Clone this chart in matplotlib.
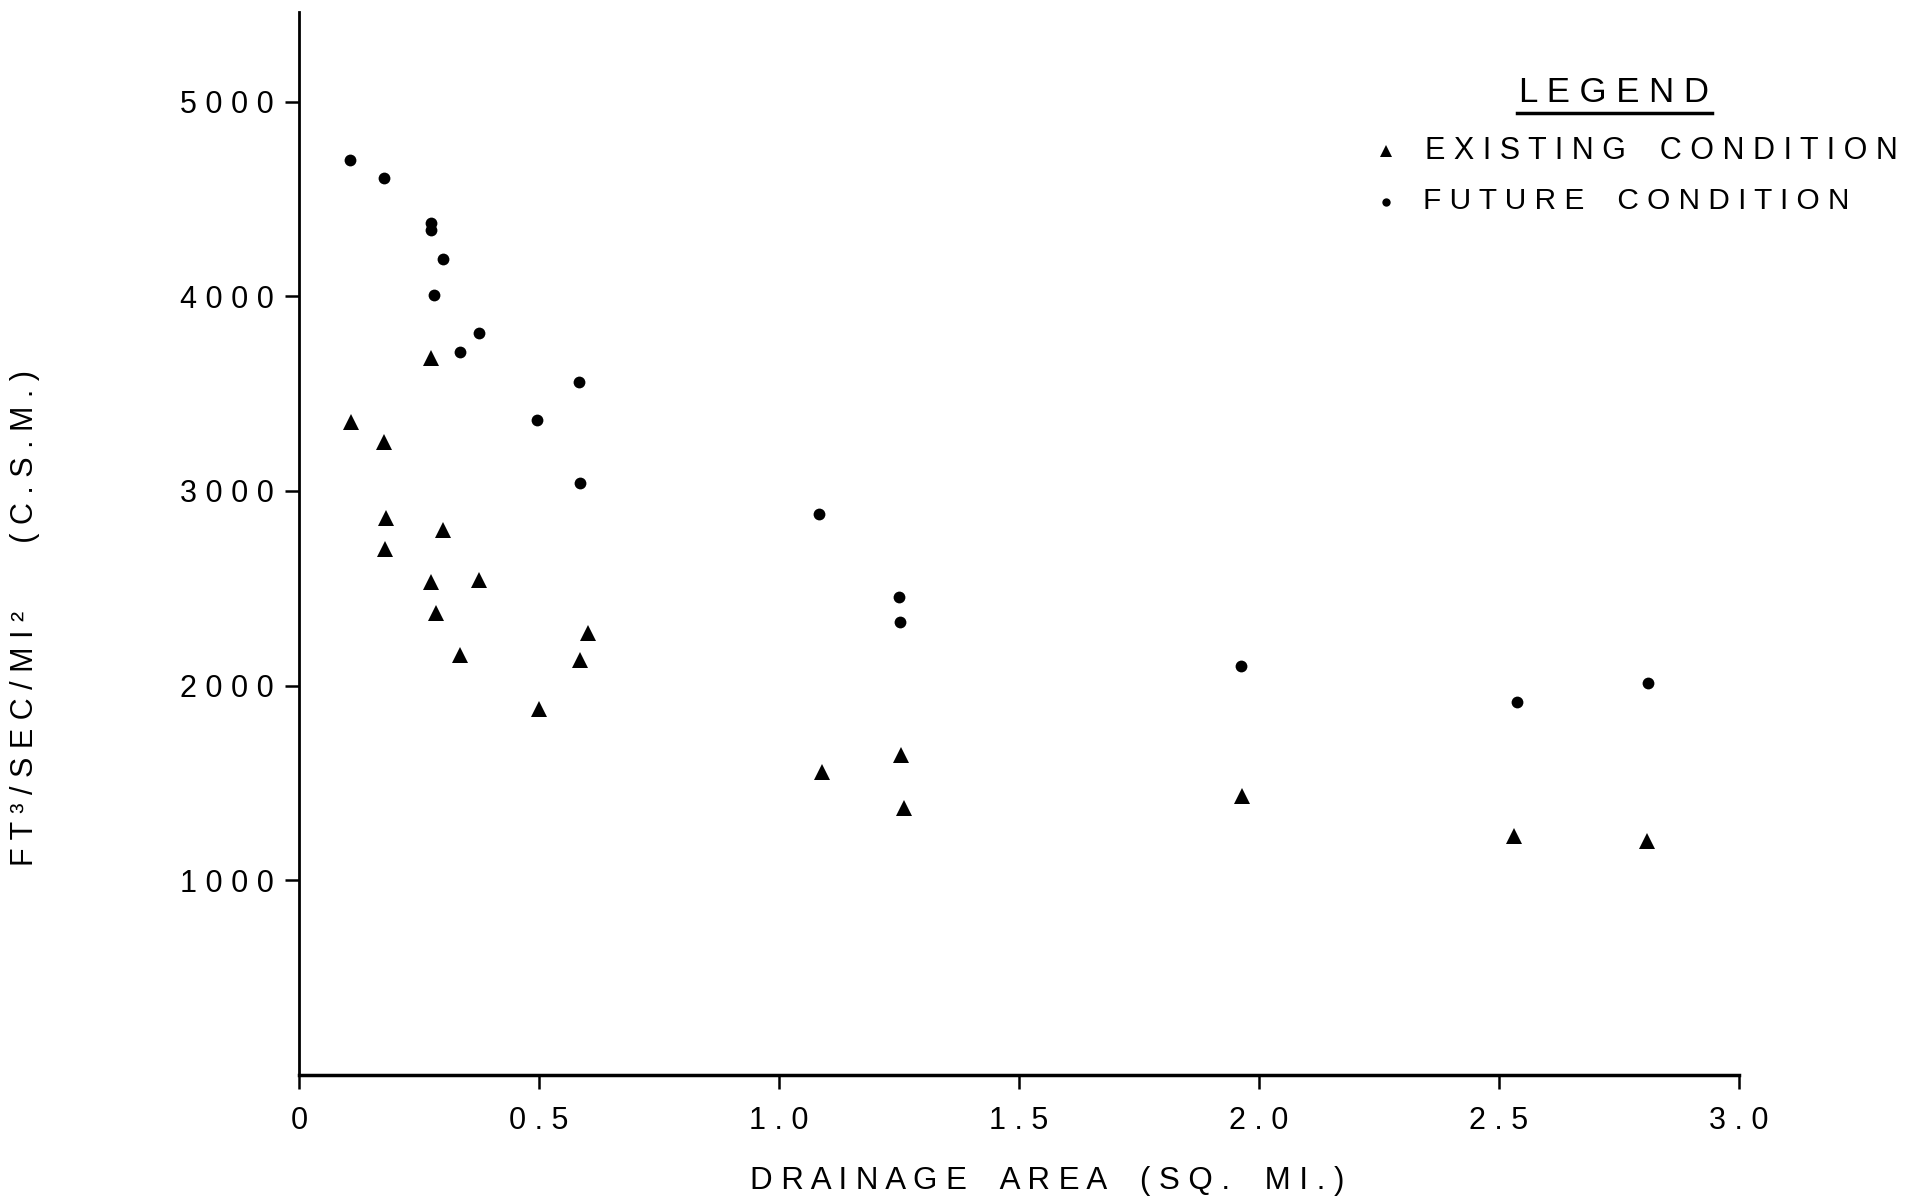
import matplotlib
matplotlib.use("Agg")
import matplotlib.pyplot as plt
from matplotlib.lines import Line2D

plt.rcParams['font.family'] = ['Liberation Sans', 'DejaVu Sans']

# ---- data (drainage area sq. mi., cfs per sq. mi.) ----
future_x = [0.106, 0.177, 0.276, 0.276, 0.299, 0.281, 0.375, 0.335, 0.584, 0.496,
            0.585, 1.084, 1.250, 1.253, 1.963, 2.537, 2.811]
future_y = [4698, 4608, 4377, 4339, 4193, 4007, 3811, 3715, 3559, 3366,
            3041, 2882, 2453, 2326, 2099, 1915, 2016]

exist_x = [0.276, 0.108, 0.178, 0.181, 0.301, 0.180, 0.275, 0.376, 0.285, 0.603,
           0.585, 0.335, 0.499, 1.089, 1.255, 1.261, 1.965, 2.531, 2.808]
exist_y = [3683, 3352, 3249, 2861, 2801, 2701, 2532, 2540, 2373, 2270,
           2133, 2158, 1879, 1555, 1643, 1372, 1435, 1226, 1201]

x_ticks = [0, 0.5, 1.0, 1.5, 2.0, 2.5, 3.0]
x_tick_labels = ["0", "0.5", "1.0", "1.5", "2.0", "2.5", "3.0"]
y_ticks = [1000, 2000, 3000, 4000, 5000]
y_tick_labels = ["1000", "2000", "3000", "4000", "5000"]

x_label = "DRAINAGE AREA (SQ. MI.)"
y_label_a = "FT³/SEC/MI²"
y_label_b = "(C.S.M.)"
legend_title = "LEGEND"
legend_labels = ["EXISTING CONDITION", "FUTURE CONDITION"]


def sp(s, gap=4):
    """letter-spaced text"""
    return (" " * gap).join(" ".join(w) for w in s.split(" "))


W, H = 1929, 1204
fig = plt.figure(figsize=(W / 100, H / 100), dpi=100)
left, right, bottom, top = 299 / W, 1739 / W, 1 - 1075 / H, 1 - 12 / H
ax = fig.add_axes([left, bottom, right - left, top - bottom])

ax.plot(exist_x, exist_y, linestyle='none', marker='^', ms=11.5, color='black',
        markeredgewidth=0)
ax.plot(future_x, future_y, linestyle='none', marker='o', ms=8.5, color='black',
        markeredgewidth=0)

ax.set_xlim(0, 3.0)
ax.set_ylim(0, 5460)
ax.spines['top'].set_visible(False)
ax.spines['right'].set_visible(False)
ax.spines['left'].set_linewidth(2)
ax.spines['bottom'].set_linewidth(2.5)

ax.set_xticks(x_ticks)
ax.set_xticklabels([sp(t) for t in x_tick_labels])
ax.set_yticks(y_ticks)
ax.set_yticklabels([sp(t) for t in y_tick_labels])
ax.tick_params(axis='x', direction='out', length=10, width=1.8, pad=12, labelsize=22)
ax.tick_params(axis='y', direction='out', length=10, width=1.8, pad=8, labelsize=22)

# axis labels
fig.text(1047 / W, 1 - 1181 / H, sp(x_label), ha='center', va='center', fontsize=22.5)
fig.text(25 / W, 1 - 618 / H, sp(y_label_a) + " " * 8 + sp(y_label_b),
         rotation=90, ha='center', va='center', fontsize=22)

# legend
fig.text(1614 / W, 1 - 92 / H, sp(legend_title), ha='center', va='center', fontsize=25)
fig.add_artist(Line2D([1517 / W, 1712 / W], [1 - 113 / H, 1 - 113 / H],
                      transform=fig.transFigure, color='black', lw=2.5))
fig.add_artist(Line2D([1386 / W], [1 - 151 / H], transform=fig.transFigure,
                      marker='^', ms=9, color='black', linestyle='none', markeredgewidth=0))
fig.add_artist(Line2D([1386 / W], [1 - 202 / H], transform=fig.transFigure,
                      marker='o', ms=6, color='black', linestyle='none', markeredgewidth=0))
fig.text(1425 / W, 1 - 151 / H, sp(legend_labels[0]), ha='left', va='center', fontsize=22)
fig.text(1423 / W, 1 - 201 / H, sp(legend_labels[1]), ha='left', va='center', fontsize=21.5)

fig.savefig("out.png", dpi=100)
